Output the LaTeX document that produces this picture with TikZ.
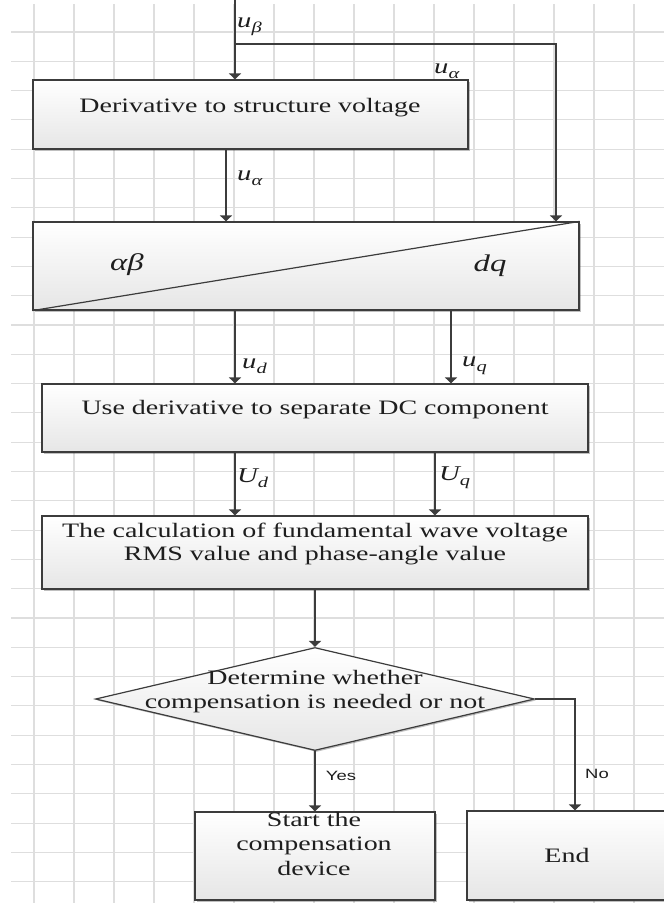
\documentclass[tikz,border=0pt]{standalone}
\usepackage{fontspec}
\setmainfont{Liberation Serif}[FakeStretch=1.365]
\newfontfamily\yesnofont{Liberation Sans}[FakeStretch=1.365]
\usetikzlibrary{arrows.meta,shapes.geometric,shadows,calc}
\definecolor{gridc}{HTML}{DEDEDE}
\definecolor{linec}{HTML}{3C3C3C}
\definecolor{txtc}{HTML}{1E1E1E}
\definecolor{boxbot}{HTML}{E6E6E6}
\newcommand\sublab[2]{{\itshape #1}\raisebox{-5pt}{\fontsize{15}{15}\selectfont\itshape #2}}
\begin{document}
\begin{tikzpicture}[x=1pt,y=-1pt,
  gridl/.style={draw=gridc,line width=1.1pt},
  box/.style={draw=linec,line width=1.2pt,top color=white,bottom color=boxbot,inner sep=0pt,
    drop shadow={shadow xshift=1.5pt,shadow yshift=-1.5pt,fill=black,opacity=0.25}},
  txt/.style={inner sep=0pt,text=txtc,align=center,font=\fontsize{20.5}{24}\selectfont},
  arr/.style={draw=linec,line width=1.2pt,-{Triangle[width=12pt,length=6pt]}},
  edge/.style={draw=linec,line width=1.2pt},
  lab/.style={inner sep=0pt,anchor=base west,text=txtc,font=\fontsize{21}{21}\selectfont},
  yn/.style={inner sep=0pt,text=txtc,font=\yesnofont\fontsize{13.5}{13.5}\selectfont}]
\useasboundingbox (0,0) rectangle (664,903);
\fill[white] (0,0) rectangle (664,903);
% grid
\foreach \i in {0,...,15} \draw[gridl] ({34+40*\i},4) -- ({34+40*\i},903);
\foreach \j in {0,...,29} \draw[gridl] (11,{32+29.3*\j}) -- (664,{32+29.3*\j});
% boxes
\node[box,minimum width=435pt,minimum height=69pt] (b1) at (250.5,114.5) {};
\node[box,minimum width=546pt,minimum height=88pt] (b2) at (306,266) {};
\node[box,minimum width=546pt,minimum height=68pt] (b3) at (315,418) {};
\node[box,minimum width=546pt,minimum height=73pt] (b4) at (315,552.5) {};
\node[box,diamond,minimum width=439pt,minimum height=103pt] (dm) at (315,699) {};
\node[box,minimum width=240pt,minimum height=88pt] (st) at (315,856) {};
\node[box,minimum width=200pt,minimum height=89pt] (en) at (567,855.5) {};
\draw[edge] (b2.south west) -- (b2.north east);
% texts
\node[txt,anchor=base] (t1) at (250,112) {Derivative to structure voltage};
\node[inner sep=0pt,text=txtc,font=\fontsize{24}{24}\selectfont\itshape] (tab) at (127,265) {αβ};
\node[inner sep=0pt,text=txtc,font=\fontsize{24}{24}\selectfont\itshape] (tdq) at (490,266) {dq};
\node[txt,anchor=base] (t3) at (315,414) {Use derivative to separate DC component};
\node[txt,anchor=north,font=\fontsize{20.5}{23}\selectfont] (t4) at (315,521) {\strut The calculation of fundamental wave voltage\\RMS value and phase-angle value};
\node[txt,anchor=north] (td) at (315,667) {\strut Determine whether\\compensation is needed or not};
\node[txt,anchor=north,font=\fontsize{20.5}{24.5}\selectfont] (ts) at (314,809) {\strut Start the\\compensation\\device};
\node[txt,anchor=base] (te) at (567,862) {End};
% connectors
\coordinate (topin) at (235,0);
\coordinate (br) at (235,44);
\coordinate (rx) at (556,44);
\draw[arr] (topin) -- (topin |- b1.north);
\draw[arr] (br) -- (rx) -- (rx |- b2.north);
\coordinate (x1) at (226,0);
\draw[arr] (x1 |- b1.south) -- (x1 |- b2.north);
\coordinate (x2) at (235,0);
\coordinate (x3) at (451,0);
\draw[arr] (x2 |- b2.south) -- (x2 |- b3.north);
\draw[arr] (x3 |- b2.south) -- (x3 |- b3.north);
\coordinate (x4) at (435,0);
\draw[arr] (x2 |- b3.south) -- (x2 |- b4.north);
\draw[arr] (x4 |- b3.south) -- (x4 |- b4.north);
\draw[arr] (b4.south) -- (dm.north);
\draw[arr] (dm.south) -- (st.north);
\coordinate (nx) at (575,0);
\draw[arr] (dm.east) -- (nx |- dm.east) -- (nx |- en.north);
% labels
\node[lab] (lb) at (237,27) {\sublab{u}{β}};
\node[lab] (la1) at (434,73) {\sublab{u}{α}};
\node[lab] (la2) at (237,180) {\sublab{u}{α}};
\node[lab] (ld) at (242,368) {\sublab{u}{d}};
\node[lab] (lq) at (462,366) {\sublab{u}{q}};
\node[lab] (lUd) at (237,482) {\sublab{U}{d}};
\node[lab] (lUq) at (439,480) {\sublab{U}{q}};
\node[yn] (yes) at (341,776) {Yes};
\node[yn] (no) at (597,774) {No};
\end{tikzpicture}
\end{document}
